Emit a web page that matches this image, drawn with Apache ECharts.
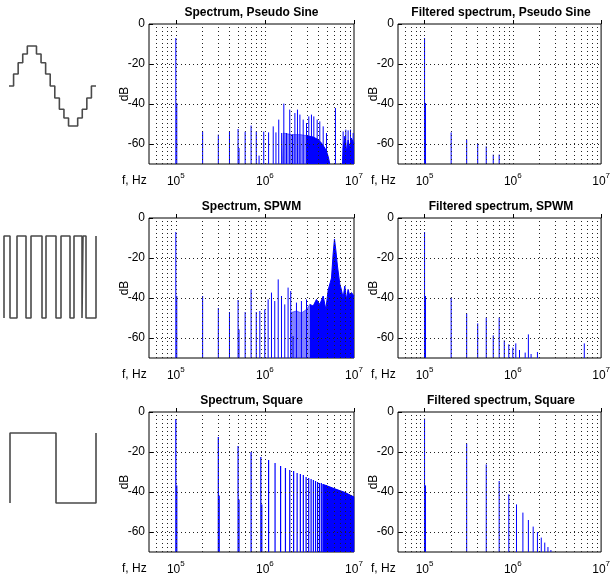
<!DOCTYPE html>
<html>
<head>
<meta charset="UTF-8">
<title>Spectra</title>
<script src="https://cdn.jsdelivr.net/npm/echarts@6/dist/echarts.min.js"></script>
<style>html,body{margin:0;padding:0;background:#fff}</style>
</head>
<body>
<div id="main" style="width:613px;height:577px;"></div>
<script>
var FONT = 'Liberation Sans, Arial, sans-serif';

// spectral lines as [frequency Hz, level dB]
var pseudoSineLines = [[100000,-7],[102500,-39.5],[200000,-53.7],[300000,-55.3],[400000,-53.8],[500000,-52.5],[512000,-62],
  [600000,-53.8],[700000,-50.8],[800000,-53.7],[860000,-65.8],[970000,-53.8],[1100000,-54.2],[1240000,-51.2],[1330000,-54.2],
  [1430000,-47.8],[1540000,-54.5],[1630000,-39.8],[1750000,-54.5],[1900000,-42.8],[2040000,-55.3],[2170000,-44.5],[2320000,-42.8],
  [2470000,-45.3],[2690000,-47.8],[2930000,-49.5],[3110000,-46.2],[3330000,-45.3],[3540000,-46.2],[3860000,-47.8],[4130000,-48.7],
  [4510000,-51.2],[4910000,-54.5],[6190000,-42],[7550000,-53.7],[8090000,-52.8],[8590000,-53.2],[9130000,-52.8],[9780000,-54.5]];
// dense line clusters, drawn as their envelope
var pseudoSineFloorLight = [[1570000,-70],[1600000,-54.5],[1990000,-55.3],[2470000,-55.3],[2930000,-55.8]];
var pseudoSineFloor = [[2930000,-55.8],[3480000,-56.5],[3960000,-57.8],[4310000,-59.5],[4700000,-62],[4910000,-63.7],[5130000,-66.2],[5350000,-70]];
var pseudoSineFloorHigh = [[7430000,-70],[7550000,-62],[7920000,-56],[8270000,-64],[8590000,-58],[8950000,-62],[9340000,-57],[10000000,-60]];
var pseudoSineFiltered = [[100000,-7],[102500,-39.5],[200000,-54.2],[300000,-57.8],[400000,-59.8],[500000,-61.2],[600000,-65.3],[700000,-65.3]];

var spwmLines = [[100000,-7],[102500,-39],[200000,-39],[300000,-45],[400000,-47],[500000,-41],[512000,-55.7],[600000,-47],
  [700000,-35.7],[800000,-47],[877000,-46.5],[997000,-45.7],[1087000,-40.7],[1185000,-37.3],[1290000,-41.5],[1410000,-30.7],
  [1535000,-39],[1670000,-43.2],[1820000,-34.8],[1950000,-36.5],[2070000,-59],[2260000,-42.3],[2570000,-41.5],[2930000,-40.7]];
var spwmFloorLight = [[1940000,-70],[1953000,-47.3],[2260000,-46.5],[2570000,-47.5],[2930000,-45.7],[3190000,-43.2]];
var spwmFloor = [[3190000,-43.2],[3480000,-44],[3790000,-40.7],[4130000,-43.2],[4510000,-39],[4830000,-45.7],[5130000,-36],
  [5590000,-30],[5830000,-18],[6040000,-10.5],[6250000,-16],[6520000,-24],[6930000,-33],[7230000,-36],[7550000,-40],
  [7880000,-34],[8230000,-40.7],[8590000,-35.7],[8970000,-39],[9370000,-37.3],[10000000,-39]];
var spwmFiltered = [[100000,-7],[102500,-39],[200000,-39.8],[300000,-47.7],[400000,-52.7],[500000,-49.8],[600000,-58.7],
  [700000,-49.8],[800000,-61.2],[900000,-63.2],[1000000,-64.8],[1080000,-62.7],[1190000,-66],[1380000,-67.3],[1500000,-58.2],
  [1610000,-68],[1900000,-67],[6450000,-62.7]];

// square wave: odd harmonics of 100 kHz
var squareOrders = [1,3,5,7,9,11,13,15,17,19,21,23,25,27,29,31,33,35,37,39,41,43,45,47,49,
  51,53,55,57,59,61,63,65,67,69,71,73,75,77,79,81,83,85,87,89,91,93,95,97,99];
var squareDb = [-3.5,-12.5,-17,-20,-22.5,-24,-25.5,-27,-28,-29,-29.5,-30.5,-31,-31.5,-32.5,-33,-33.5,-34,-34.5,-35,-35.5,-35.5,-36,-36.5,-36.5,
  -37,-37.5,-37.5,-38,-38,-38.5,-38.5,-39,-39,-39.5,-39.5,-40,-40,-40,-40.5,-40.5,-41,-41,-41,-41.5,-41.5,-41.5,-42,-42,-42.5];
var squareSide = [[102500,-36.7],[307000,-41.7],[512000,-43.7],[922000,-46.2]];
var squareFloor = [[4500000,-70],[4500000,-36.2],[6000000,-38.3],[8000000,-40.3],[10000000,-42.5]];
var squareFiltered = [[100000,-3.3],[102500,-36.7],[300000,-15.7],[500000,-26.2],[700000,-34.5],[900000,-41.2],[1100000,-46.2],
  [1300000,-50.3],[1500000,-54],[1700000,-57.3],[1900000,-60],[2100000,-62.8],[2300000,-65.3],[2500000,-67.5],[2700000,-69]];

// waveform sketches on the left
var pseudoSineSteps = [0,0.3,0.58,0.8,1,1,0.8,0.58,0.3,0,-0.3,-0.58,-0.8,-1,-1,-0.8,-0.58,-0.3,0];
var spwmEdges = [0,6,13,22,27,38,42,52,57,66,70,78,79,82,92];
var squareEdges = [0,46,86];

var gridFreqs = [6e4,7e4,8e4,9e4,1e5,2e5,3e5,4e5,5e5,6e5,7e5,8e5,9e5,1e6,2e6,3e6,4e6,5e6,6e6,7e6,8e6,9e6];
var gridDb = [-20,-40,-60];
var dbTicks = [0,-20,-40,-60];

var squareLines = squareOrders.map(function (n, i) { return [n * 100000, squareDb[i]]; }).concat(squareSide);

var BLUE = '#0000ff';
var LIGHT = 'rgba(30,30,255,0.55)';
var panels = [
  { title: 'Spectrum, Pseudo Sine', col: 0, row: 0, lines: pseudoSineLines, width: 1,
    floors: [[pseudoSineFloorLight, LIGHT], [pseudoSineFloor, BLUE], [pseudoSineFloorHigh, BLUE]] },
  { title: 'Filtered spectrum, Pseudo Sine', col: 1, row: 0, lines: pseudoSineFiltered, width: 1, floors: [] },
  { title: 'Spectrum, SPWM', col: 0, row: 1, lines: spwmLines, width: 1,
    floors: [[spwmFloorLight, LIGHT], [spwmFloor, BLUE]] },
  { title: 'Filtered spectrum, SPWM', col: 1, row: 1, lines: spwmFiltered, width: 1, floors: [] },
  { title: 'Spectrum, Square', col: 0, row: 2, lines: squareLines, width: 1.2, floors: [[squareFloor, BLUE]] },
  { title: 'Filtered spectrum, Square', col: 1, row: 2, lines: squareFiltered, width: 1, floors: [] }
];
var colLeft = [149, 398], colWidth = [205, 206];
var rowTop = [24, 218, 412], plotH = 140;

function decadeLabel(v) {
  var e = Math.log10(v);
  if (Math.abs(e - Math.round(e)) > 1e-6) return '';
  return '{m|10}{e|' + Math.round(e) + '}';
}

function makeStem(w) {
  return function (params, api) {
    var top = api.coord([api.value(0), api.value(1)]);
    var bot = api.coord([api.value(0), -70]);
    return { type: 'line', shape: { x1: top[0], y1: top[1], x2: bot[0], y2: bot[1] },
      style: { stroke: BLUE, lineWidth: w } };
  };
}

var textStyle = { fontFamily: FONT, fontSize: 12, color: '#000' };
var grids = [], xAxes = [], yAxes = [], titles = [], series = [];
panels.forEach(function (p, i) {
  var left = colLeft[p.col], top = rowTop[p.row];
  grids.push({ left: left, top: top, width: colWidth[p.col], height: plotH, show: true,
    borderColor: '#000', borderWidth: 1, backgroundColor: 'transparent' });
  titles.push({ text: p.title, left: left + colWidth[p.col] / 2, top: top - 17, textAlign: 'center', padding: 0,
    textStyle: { fontFamily: FONT, fontSize: 12, fontWeight: 'bold', color: '#000' } });
  titles.push({ text: 'f, Hz', left: left - 27, top: top + plotH + 11, padding: 0,
    textStyle: { fontFamily: FONT, fontSize: 12, fontWeight: 'normal', color: '#000' } });
  xAxes.push({ type: 'log', logBase: 10, min: 5e4, max: 1e7, gridIndex: i,
    axisLine: { show: false }, splitLine: { show: false },
    axisTick: { show: true, inside: true, length: 4, lineStyle: { color: '#000' } },
    axisLabel: { formatter: decadeLabel, margin: 8, showMinLabel: false,
      rich: { m: { fontFamily: FONT, fontSize: 12, color: '#000', lineHeight: 16, verticalAlign: 'bottom' },
              e: { fontFamily: FONT, fontSize: 8, color: '#000', verticalAlign: 'top', lineHeight: 16 } } } });
  yAxes.push({ type: 'value', min: -70, max: 0, interval: 10, gridIndex: i,
    name: 'dB', nameLocation: 'middle', nameGap: 18, nameMoveOverlap: false, nameTextStyle: textStyle,
    axisLine: { show: false }, splitLine: { show: false },
    axisTick: { show: true, inside: true, length: 4, customValues: dbTicks, lineStyle: { color: '#000' } },
    axisLabel: { customValues: dbTicks, margin: 4, fontFamily: FONT, fontSize: 12, color: '#000' } });
  var marks = gridFreqs.map(function (f) { return { xAxis: f }; })
    .concat(gridDb.map(function (d) { return { yAxis: d }; }));
  series.push({ type: 'line', xAxisIndex: i, yAxisIndex: i, data: [], silent: true, z: 1,
    markLine: { silent: true, symbol: ['none', 'none'], label: { show: false }, animation: false,
      lineStyle: { type: [1, 3], color: '#222', width: 1 }, emphasis: { disabled: true }, data: marks } });
  p.floors.forEach(function (fl) {
    series.push({ type: 'line', xAxisIndex: i, yAxisIndex: i, data: fl[0], symbol: 'none', silent: true, z: 2,
      lineStyle: { width: 1, color: fl[1] }, areaStyle: { color: fl[1], opacity: 1, origin: 'start' } });
  });
  series.push({ type: 'custom', xAxisIndex: i, yAxisIndex: i, data: p.lines, renderItem: makeStem(p.width), z: 3,
    silent: true, encode: { x: 0, y: 1 } });
});

// waveform icons
function iconAxes(gi, xmax) {
  xAxes.push({ type: 'value', gridIndex: gi, min: 0, max: xmax, show: false });
  yAxes.push({ type: 'value', gridIndex: gi, min: -1, max: 1, show: false });
}
var ICON = { color: '#4a4a4a', width: 1.6 };
var gi = 6;
grids.push({ left: 9, top: 46, width: 87, height: 80 });
iconAxes(gi, pseudoSineSteps.length);
series.push({ type: 'line', xAxisIndex: gi, yAxisIndex: gi, step: 'end', symbol: 'none', clip: false, silent: true,
  lineStyle: ICON,
  data: pseudoSineSteps.map(function (v, k) { return [k, v]; }).concat([[pseudoSineSteps.length, 0]]) });
gi++;
grids.push({ left: 4, top: 236, width: 92, height: 82 });
iconAxes(gi, 92);
var spwmData = [];
spwmEdges.forEach(function (x, k) {
  var hi = k % 2 === 0;
  spwmData.push([x, hi ? -1 : 1]);
  spwmData.push([x, hi ? 1 : -1]);
});
series.push({ type: 'line', xAxisIndex: gi, yAxisIndex: gi, symbol: 'none', clip: false, silent: true,
  lineStyle: ICON, data: spwmData });
gi++;
grids.push({ left: 10, top: 433, width: 86, height: 70 });
iconAxes(gi, 86);
var sqData = [];
squareEdges.forEach(function (x, k) {
  var up = k % 2 === 0;
  sqData.push([x, up ? -1 : 1]);
  sqData.push([x, up ? 1 : -1]);
});
series.push({ type: 'line', xAxisIndex: gi, yAxisIndex: gi, symbol: 'none', clip: false, silent: true,
  lineStyle: ICON, data: sqData });

var chart = echarts.init(document.getElementById('main'));
chart.setOption({
  animation: false,
  backgroundColor: '#fff',
  title: titles,
  grid: grids,
  xAxis: xAxes,
  yAxis: yAxes,
  series: series
});
</script>
</body>
</html>
